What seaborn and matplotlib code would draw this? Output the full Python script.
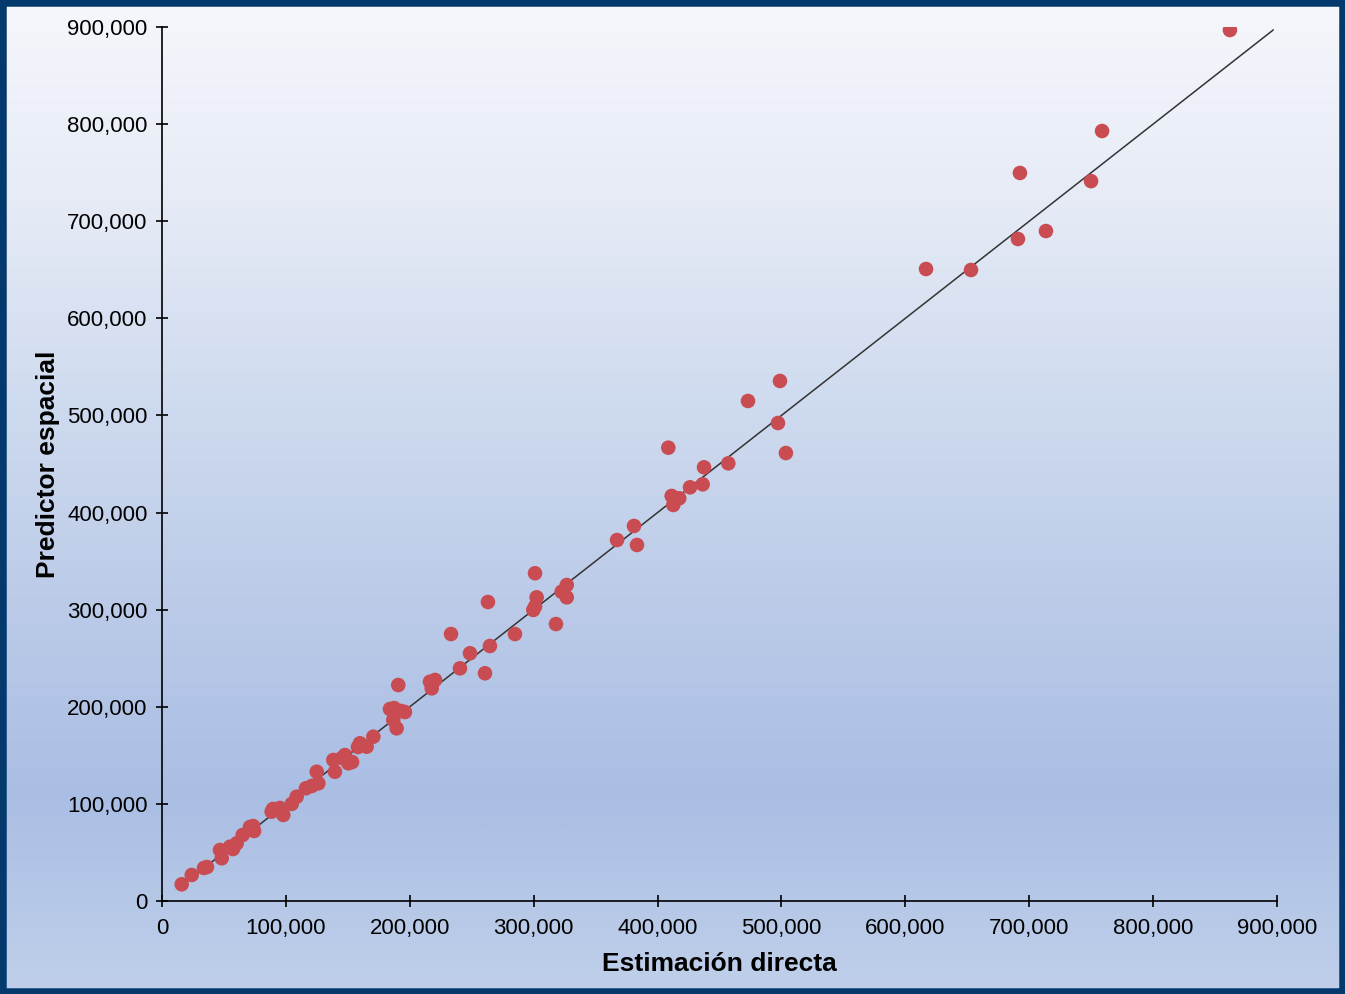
import numpy as np
import pandas as pd
import matplotlib
matplotlib.use("Agg")
import matplotlib.pyplot as plt
from matplotlib.ticker import FuncFormatter
from matplotlib.patches import Rectangle
import seaborn as sns

# Direct estimate vs spatial predictor (same units on both axes)
estimacion_directa = [
    15900, 24000, 33900, 36300, 48200, 46800, 54900, 60300, 65100, 57300,
    71000, 73500, 74300, 88500, 95200, 97900, 89600, 104700, 108700, 116200,
    121000, 126200, 124900, 138300, 139600, 147700, 150400, 145300, 153400, 159800,
    165200, 158200, 170600, 184000, 186700, 189400, 190700, 196100, 187300, 192900,
    216300, 220400, 217700, 233300, 240500, 248600, 260700, 263100, 264700, 284900,
    299700, 301100, 301100, 302400, 318000, 322600, 326700, 326700, 367300, 381000,
    383400, 408700, 411400, 412700, 417500, 426200, 436400, 437500, 457100, 473000,
    497200, 498800, 503600, 616700, 653000, 690900, 692500, 713500, 749900, 758800,
    862000,
]
predictor_espacial = [
    17200, 26800, 34000, 35000, 44000, 52500, 55900, 59400, 68000, 53500,
    76200, 77200, 72100, 92000, 95800, 88600, 94700, 100000, 107400, 116100,
    118500, 121200, 133100, 145200, 133100, 150300, 141800, 147300, 143100, 162400,
    158900, 158600, 169200, 197700, 186400, 177800, 222400, 194600, 198700, 195700,
    225800, 227600, 219000, 274900, 239600, 255100, 234500, 307900, 262600, 274900,
    299700, 303100, 337500, 312700, 285200, 318500, 312700, 325400, 371700, 386200,
    366600, 466800, 417100, 407800, 414700, 426000, 429100, 446600, 450700, 514900,
    492200, 535500, 461300, 650800, 649800, 681700, 749700, 689900, 741300, 792900,
    896900,
]

# Reference line y = x
linea_x = [15000, 897000]
linea_y = [15000, 897000]

ticks = [0, 100000, 200000, 300000, 400000, 500000, 600000, 700000, 800000, 900000]

df = pd.DataFrame({"Estimación directa": estimacion_directa,
                   "Predictor espacial": predictor_espacial})

sns.set_style("ticks")
plt.rcParams["font.family"] = ["Liberation Sans", "DejaVu Sans"]
plt.rcParams["text.color"] = "black"
plt.rcParams["axes.labelcolor"] = "black"

W, H = 1345, 994
fig = plt.figure(figsize=(W / 100, H / 100), dpi=100)

# Vertical background gradient
bg = fig.add_axes([0, 0, 1, 1], zorder=0)
stops_pos = np.array([0.0, 0.2, 0.4, 0.6, 0.8, 1.0])
stops_col = np.array([
    [0xf6, 0xf7, 0xfc],
    [0xe6, 0xeb, 0xf6],
    [0xcf, 0xdb, 0xef],
    [0xbc, 0xcb, 0xe8],
    [0xaa, 0xbe, 0xe4],
    [0xc0, 0xd0, 0xea],
]) / 255.0
t = np.linspace(0, 1, 400)
grad = np.stack([np.interp(t, stops_pos, stops_col[:, c]) for c in range(3)], axis=-1)
grad = np.repeat(grad[:, None, :], 2, axis=1)
bg.imshow(grad, aspect="auto", extent=[0, 1, 0, 1], origin="upper")
bg.set_axis_off()

# Dark frame around the figure
fig.patches.append(Rectangle((0, 0), 1, 1, transform=fig.transFigure,
                             fill=False, edgecolor="#03396c", linewidth=9,
                             zorder=10))

ax = fig.add_axes([162 / W, 1 - 901 / H, (1277 - 162) / W, (901 - 27) / H], zorder=1)
ax.set_facecolor("none")

sns.lineplot(x=linea_x, y=linea_y, ax=ax, color="#333333", linewidth=1.1, zorder=2)
sns.scatterplot(data=df, x="Estimación directa", y="Predictor espacial", ax=ax,
                color="#c84c51", s=110, linewidth=0, edgecolor="none", zorder=3)

ax.set_xlim(0, 900000)
ax.set_ylim(0, 900000)
ax.set_xticks(ticks)
ax.set_yticks(ticks)
fmt = FuncFormatter(lambda v, p: f"{int(v):,}")
ax.xaxis.set_major_formatter(fmt)
ax.yaxis.set_major_formatter(fmt)

for side in ("top", "right"):
    ax.spines[side].set_visible(False)
for side in ("left", "bottom"):
    ax.spines[side].set_color("black")
    ax.spines[side].set_linewidth(1.2)

ax.tick_params(axis="both", direction="inout", length=9, width=1.2,
               colors="black", labelsize=16, pad=6)
ax.tick_params(axis="x", pad=8)

ax.set_xlabel("Estimación directa", fontsize=19, fontweight="bold", labelpad=9)
ax.set_ylabel("Predictor espacial", fontsize=19, fontweight="bold", labelpad=5)

fig.savefig("out.png", dpi=100)
